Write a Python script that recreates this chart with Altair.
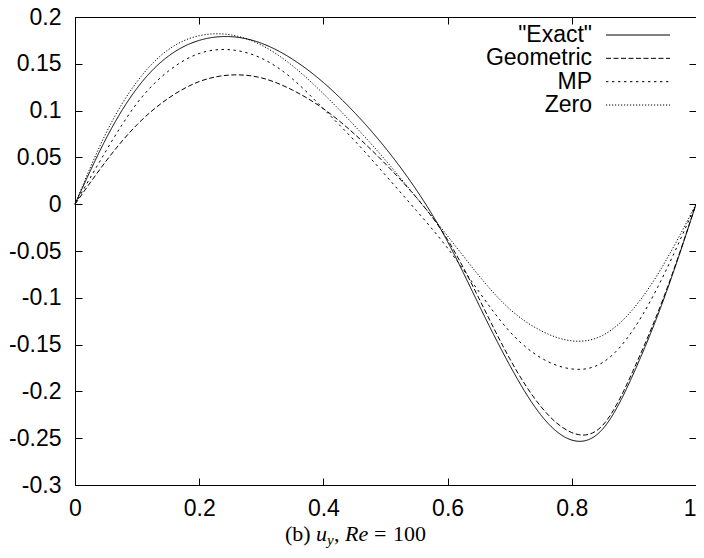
import altair as alt
import pandas as pd

# ---- data ----
x_vals = [0.0, 0.05, 0.10, 0.15, 0.20, 0.25, 0.30, 0.35, 0.40, 0.45, 0.50,
          0.55, 0.60, 0.65, 0.70, 0.75, 0.80, 0.85, 0.90, 0.95, 1.0]
exact = [0.0, 0.070, 0.124, 0.158, 0.175, 0.179, 0.172, 0.155, 0.130, 0.098, 0.060,
         0.015, -0.040, -0.107, -0.172, -0.225, -0.252, -0.240, -0.180, -0.098, 0.0]
geometric = [0.0, 0.046, 0.085, 0.113, 0.131, 0.138, 0.135, 0.122, 0.102, 0.075, 0.043,
             0.007, -0.038, -0.100, -0.165, -0.216, -0.244, -0.236, -0.176, -0.096, 0.0]
mp = [0.0, 0.057, 0.108, 0.142, 0.161, 0.165, 0.156, 0.134, 0.102, 0.068, 0.031,
      -0.007, -0.047, -0.093, -0.136, -0.164, -0.176, -0.169, -0.133, -0.073, 0.0]
zero = [0.0, 0.076, 0.131, 0.165, 0.180, 0.181, 0.170, 0.148, 0.118, 0.084, 0.047,
        0.007, -0.034, -0.076, -0.112, -0.135, -0.146, -0.140, -0.111, -0.062, 0.0]
series_names = ['"Exact"', "Geometric", "MP", "Zero"]
x_ticks = [0, 0.2, 0.4, 0.6, 0.8, 1]
y_ticks = [0.2, 0.15, 0.1, 0.05, 0, -0.05, -0.1, -0.15, -0.2, -0.25, -0.3]

rows = []
for name, vals in zip(series_names, [exact, geometric, mp, zero]):
    for xv, yv in zip(x_vals, vals):
        rows.append({"x": xv, "y": yv, "series": name})
df = pd.DataFrame(rows)
leg_df = pd.DataFrame({"series": series_names})

# ---- styles ----
W, H = 621, 468
SANS = "Liberation Sans"
SERIF = "Liberation Serif"
FS = 23
dash_scale = alt.Scale(domain=series_names,
                       range=[[1, 0], [5, 2.5], [2.4, 3.6], [1.2, 1.8]])
x_scale = alt.Scale(domain=[0, 1], nice=False, zero=False)
y_scale = alt.Scale(domain=[-0.3, 0.2], nice=False, zero=False)

label_expr = "replace(format(datum.value, '~g'), '\u2212', '-')"

def axis(orient, values, labels=True, pad=12, **extra):
    kw = dict(orient=orient, values=values, offset=-7, tickSize=7, domain=False,
              grid=False, tickColor="black", tickWidth=1, title=None)
    if labels:
        kw.update(labelFont=SANS, labelFontSize=FS, labelColor="black",
                  labelPadding=pad, labelExpr=label_expr, labelFlush=False,
                  labelOverlap=False)
    else:
        kw.update(labels=False)
    kw.update(extra)
    return alt.Axis(**kw)

lines = alt.Chart(df).mark_line(interpolate="natural", color="black", strokeWidth=1).encode(
    x=alt.X("x:Q", scale=x_scale,
            axis=axis("bottom", x_ticks, pad=12,
                      labelAlign={"condition": {"test": "datum.value >= 1", "value": "right"},
                                  "value": "center"})),
    y=alt.Y("y:Q", scale=y_scale, axis=axis("left", y_ticks, pad=14)),
    strokeDash=alt.StrokeDash("series:N", scale=dash_scale, legend=None),
    detail="series:N",
)

mirror = alt.Chart(df).mark_line(opacity=0).encode(
    x=alt.X("x:Q", scale=x_scale, axis=axis("top", x_ticks, labels=False)),
    y=alt.Y("y:Q", scale=y_scale, axis=axis("right", y_ticks, labels=False)),
    detail="series:N",
)

leg_y = alt.Y("series:N", scale=alt.Scale(type="point", domain=series_names,
                                          range=[18, 88], padding=0), axis=None)
leg_text = alt.Chart(leg_df).mark_text(align="right", baseline="middle", font=SANS,
                                       fontSize=FS, color="black").encode(
    x=alt.value(517), y=leg_y, text="series:N")
leg_line = alt.Chart(leg_df).mark_rule(color="black", strokeWidth=1).encode(
    x=alt.value(531), x2=alt.value(595), y=leg_y,
    strokeDash=alt.StrokeDash("series:N", scale=dash_scale, legend=None))

# ---- caption "(b) u_y, Re = 100" ----
cap_base = 524
cap_pieces = [
    ("(b)", 210, 0, 22, "normal"),
    ("u", 241, 0, 22, "italic"),
    ("y", 252, 4, 15, "italic"),
    (",", 259, 0, 22, "normal"),
    ("Re", 270, 0, 22, "italic"),
    ("=", 299, 0, 22, "normal"),
    ("100", 318, 0, 22, "normal"),
]
caps = []
for txt, cx, dy, fs, style in cap_pieces:
    caps.append(
        alt.Chart(pd.DataFrame({"t": [txt]})).mark_text(
            align="left", baseline="alphabetic", font=SERIF, fontSize=fs,
            fontStyle=style, color="black").encode(
            x=alt.value(cx), y=alt.value(cap_base + dy), text="t:N")
    )

chart = alt.layer(lines, mirror, leg_line, leg_text, *caps).resolve_scale(
    y="independent"
).resolve_axis(
    x="independent", y="independent"
).properties(
    width=W, height=H,
    autosize=alt.AutoSizeParams(type="none"),
    padding={"left": 67, "top": 9, "right": 0, "bottom": 65},
).configure_view(stroke="black", strokeWidth=1)

chart.save("out.html", embed_options={"renderer": "svg", "actions": False})
